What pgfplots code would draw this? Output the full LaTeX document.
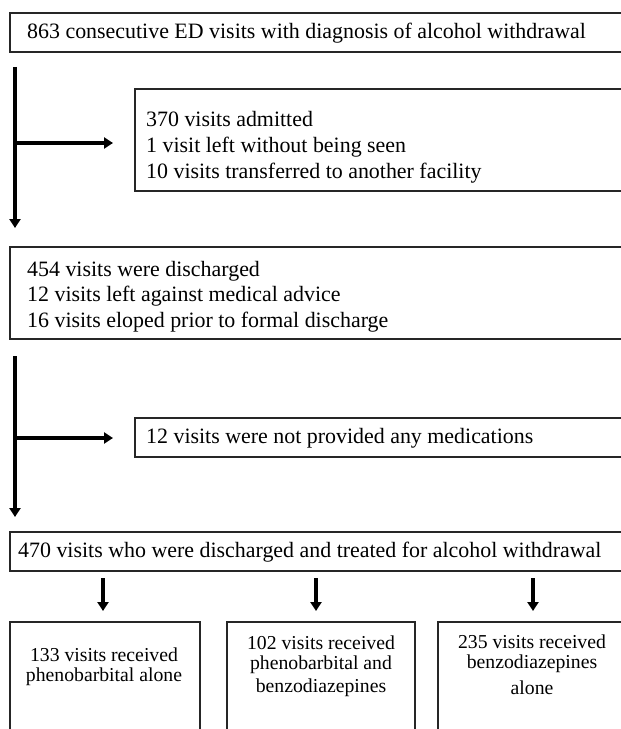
\documentclass[border=0pt]{standalone}
\usepackage{pgfplots}
\pgfplotsset{compat=1.18}
\usepackage{fontspec}
\setmainfont{Liberation Serif}
\usetikzlibrary{arrows.meta}
\begin{document}
\begin{tikzpicture}
\useasboundingbox (0,0) rectangle (621bp,729bp);
\begin{axis}[
  at={(0,0)}, anchor=south west,
  width=621bp, height=729bp, scale only axis,
  xmin=0, xmax=621, ymin=0, ymax=729, y dir=reverse,
  hide axis, clip=true,
]
\tikzset{
  bx/.style={draw=black!85, line width=1.6pt},
  ln/.style={line width=3.4pt},
  ar/.style={line width=3.4pt, -{Triangle[length=9pt,width=11pt]}},
  tx/.style={font=\fontsize{22}{26}\selectfont, inner sep=0pt},
  tb/.style={font=\fontsize{19.8}{23}\selectfont, inner sep=0pt},
}
% box 1
\draw[bx] (axis cs:10,13) rectangle (axis cs:640,52);
\node[tx, anchor=west] at (axis cs:27,33) {863 consecutive ED visits with diagnosis of alcohol withdrawal};
% arrows 1
\draw[ln] (axis cs:15,67) -- (axis cs:15,215);
\draw[ar] (axis cs:15,210) -- (axis cs:15,228);
\draw[ar] (axis cs:13.5,143) -- (axis cs:113,143);
% box 2
\draw[bx] (axis cs:135,89) rectangle (axis cs:640,191);
\node[tx, anchor=west] at (axis cs:146,119) {370 visits admitted};
\node[tx, anchor=west] at (axis cs:146,147) {1 visit left without being seen};
\node[tx, anchor=west] at (axis cs:146,173) {10 visits transferred to another facility};
% box 3
\draw[bx] (axis cs:10,247) rectangle (axis cs:640,339);
\node[tx, anchor=west] at (axis cs:27,271) {454 visits were discharged};
\node[tx, anchor=west] at (axis cs:27,296) {12 visits left against medical advice};
\node[tx, anchor=west] at (axis cs:27,322) {16 visits eloped prior to formal discharge};
% arrows 2
\draw[ln] (axis cs:15,356) -- (axis cs:15,505);
\draw[ar] (axis cs:15,500) -- (axis cs:15,517);
\draw[ar] (axis cs:13.5,438) -- (axis cs:113,438);
% box 4
\draw[bx] (axis cs:135,418) rectangle (axis cs:640,457);
\node[tx, anchor=west] at (axis cs:146,438) {12 visits were not provided any medications};
% box 5
\draw[bx] (axis cs:10,532) rectangle (axis cs:640,571);
\node[tx, anchor=west] at (axis cs:18,552) {470 visits who were discharged and treated for alcohol withdrawal};
% small arrows
\draw[ar] (axis cs:103,578) -- (axis cs:103,611);
\draw[ar] (axis cs:316,578) -- (axis cs:316,611);
\draw[ar] (axis cs:533,578) -- (axis cs:533,611);
% bottom boxes
\draw[bx] (axis cs:10,760) -- (axis cs:10,622) -- (axis cs:200,622) -- (axis cs:200,760);
\draw[bx] (axis cs:227,760) -- (axis cs:227,622) -- (axis cs:415,622) -- (axis cs:415,760);
\draw[bx] (axis cs:438,760) -- (axis cs:438,622) -- (axis cs:640,622);
\node[tb] at (axis cs:104,655) {133 visits received};
\node[tb] at (axis cs:104,677) {phenobarbital alone};
\node[tb] at (axis cs:321,643) {102 visits received};
\node[tb] at (axis cs:321,665) {phenobarbital and};
\node[tb] at (axis cs:321,688) {benzodiazepines};
\node[tb] at (axis cs:532,642) {235 visits received};
\node[tb] at (axis cs:532,664) {benzodiazepines};
\node[tb] at (axis cs:532,688) {alone};
\end{axis}
\end{tikzpicture}
\end{document}
